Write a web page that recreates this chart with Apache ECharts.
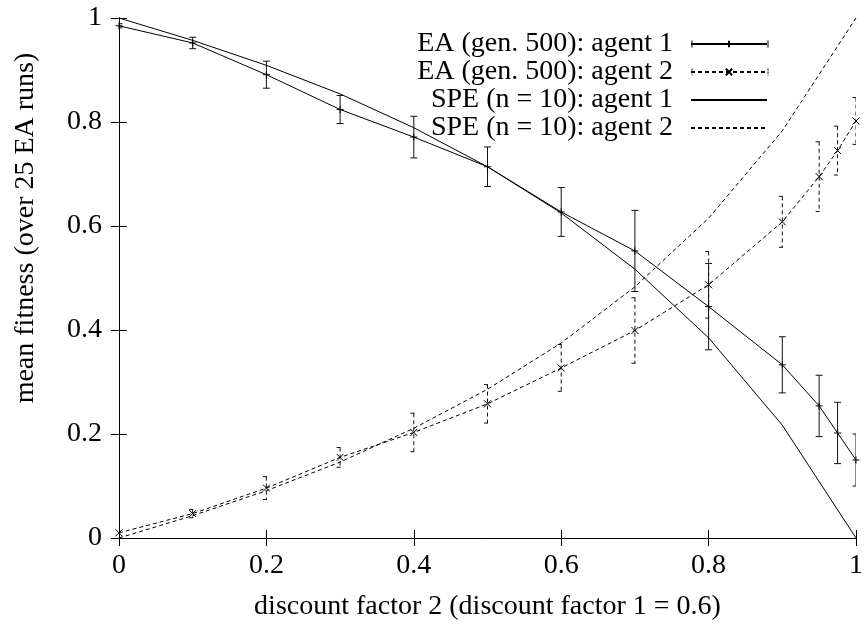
<!DOCTYPE html>
<html>
<head>
<meta charset="utf-8">
<script src="https://cdn.jsdelivr.net/npm/echarts@6/dist/echarts.min.js"></script>
<style>
  html, body { margin: 0; padding: 0; background: #fff; }
  #chart { width: 866px; height: 626px; }
</style>
</head>
<body>
<div id="chart"></div>
<script>
// discount factor 2 values where the EA was run
const eaX = [0, 0.1, 0.2, 0.3, 0.4, 0.5, 0.6, 0.7, 0.8, 0.9, 0.95, 0.975, 1];
const eaAgent1 = [0.985, 0.952, 0.891, 0.824, 0.771, 0.714, 0.627, 0.552, 0.445, 0.333, 0.254, 0.202, 0.15];
const eaAgent1Err = [0.004, 0.011, 0.026, 0.027, 0.04, 0.038, 0.047, 0.078, 0.083, 0.054, 0.059, 0.059, 0.05];
const eaAgent2 = [0.010, 0.047, 0.096, 0.155, 0.203, 0.258, 0.327, 0.399, 0.487, 0.608, 0.695, 0.745, 0.802];
const eaAgent2Err = [0.003, 0.008, 0.022, 0.019, 0.037, 0.037, 0.045, 0.063, 0.064, 0.049, 0.067, 0.047, 0.045];

// subgame perfect equilibrium (n = 10)
const speX = [0, 0.1, 0.2, 0.3, 0.4, 0.5, 0.6, 0.7, 0.8, 0.9, 1];
const speAgent1 = [1.0, 0.957, 0.909, 0.854, 0.789, 0.714, 0.625, 0.517, 0.385, 0.217, 0.0];
const speAgent2 = [0.0, 0.043, 0.091, 0.146, 0.211, 0.286, 0.375, 0.483, 0.615, 0.783, 1.0];

const legendNames = ['EA (gen. 500): agent 1', 'EA (gen. 500): agent 2', 'SPE (n = 10): agent 1', 'SPE (n = 10): agent 2'];

const FONT = 'Liberation Serif';
const FS = 28;
const DASH = [4, 3];
const PLUS = 'path://M0,4L8,4M4,0L4,8';
const CROSS = 'path://M0,0L8,8M0,8L8,0';

const LEGEND_TOP = 30;
const LEGEND_ROW = 28;

const zip = (xs, ys) => xs.map((x, i) => [x, ys[i]]);
const zip3 = (xs, ys, es) => xs.map((x, i) => [x, ys[i], es[i]]);

function errorBars(dashed) {
  return function (params, api) {
    const x = api.value(0), y = api.value(1), e = api.value(2);
    const top = api.coord([x, y + e]);
    const bot = api.coord([x, y - e]);
    const w = 3.5;
    const style = { stroke: '#111', lineWidth: 1, lineDash: dashed ? DASH : null, fill: null };
    return {
      type: 'group',
      children: [
        { type: 'line', shape: { x1: top[0], y1: top[1], x2: bot[0], y2: bot[1] }, style: style },
        { type: 'line', shape: { x1: top[0] - w, y1: top[1], x2: top[0] + w, y2: top[1] }, style: style },
        { type: 'line', shape: { x1: bot[0] - w, y1: bot[1], x2: bot[0] + w, y2: bot[1] }, style: style }
      ]
    };
  };
}

// little end caps on the two error-bar legend samples
function legendCaps(row, dashed) {
  const cy = LEGEND_TOP + LEGEND_ROW / 2 + row * LEGEND_ROW;
  return [692, 768].map(x => ({
    type: 'line',
    shape: { x1: x, y1: cy - 3.5, x2: x, y2: cy + 3.5 },
    style: { stroke: '#000', lineWidth: 1, lineDash: dashed ? [2, 1] : null }
  }));
}

const chart = echarts.init(document.getElementById('chart'));

const axisCommon = {
  type: 'value',
  min: 0,
  max: 1,
  interval: 0.2,
  splitLine: { show: false },
  axisLine: { show: true, lineStyle: { color: '#000', width: 1 } },
  axisTick: { show: true, inside: true, length: 8, lineStyle: { color: '#000' } },
  axisLabel: { color: '#000', fontFamily: FONT, fontSize: FS }
};

const option = {
  animation: false,
  backgroundColor: '#fff',
  textStyle: { fontFamily: FONT },
  grid: { left: 119, right: 2, top: 18, bottom: 84 },
  xAxis: [
    Object.assign({}, axisCommon, {
      position: 'bottom',
      axisLabel: Object.assign({}, axisCommon.axisLabel, { margin: 14, showMaxLabel: true }),
      name: 'discount factor 2 (discount factor 1 = 0.6)',
      nameLocation: 'middle',
      nameGap: 55,
      nameTextStyle: { color: '#000', fontFamily: FONT, fontSize: FS }
    }),
    Object.assign({}, axisCommon, { position: 'top', axisLabel: { show: false } })
  ],
  yAxis: [
    Object.assign({}, axisCommon, {
      position: 'left',
      axisLabel: Object.assign({}, axisCommon.axisLabel, { margin: 17 })
    }),
    Object.assign({}, axisCommon, { position: 'right', axisLabel: { show: false } })
  ],
  graphic: [{
    type: 'text',
    x: 26,
    y: 228,
    rotation: Math.PI / 2,
    style: {
      text: 'mean fitness (over 25 EA runs)',
      fontFamily: FONT,
      fontSize: FS,
      fill: '#000',
      align: 'center',
      verticalAlign: 'middle'
    }
  }].concat(legendCaps(0, false), legendCaps(1, true)),
  legend: {
    orient: 'vertical',
    align: 'right',
    right: 98,
    top: LEGEND_TOP,
    padding: 0,
    itemGap: 0,
    itemWidth: 76,
    itemHeight: 8,
    selectedMode: false,
    textStyle: { color: '#000', fontFamily: FONT, fontSize: FS, lineHeight: LEGEND_ROW, padding: [0, 13, 0, 0] },
    data: legendNames
  },
  series: [
    {
      name: legendNames[0],
      type: 'line',
      data: zip(eaX, eaAgent1),
      symbol: PLUS,
      symbolSize: 7,
      showAllSymbol: true,
      lineStyle: { color: '#000', width: 1 },
      itemStyle: { color: 'rgba(0,0,0,0)', borderColor: '#000', borderWidth: 1 },
      emphasis: { disabled: true }
    },
    {
      name: legendNames[1],
      type: 'line',
      data: zip(eaX, eaAgent2),
      symbol: CROSS,
      symbolSize: 7,
      showAllSymbol: true,
      lineStyle: { color: '#000', width: 1, type: DASH },
      itemStyle: { color: 'rgba(0,0,0,0)', borderColor: '#000', borderWidth: 1 },
      emphasis: { disabled: true }
    },
    {
      name: legendNames[2],
      type: 'line',
      data: zip(speX, speAgent1),
      symbol: 'circle',
      showSymbol: false,
      lineStyle: { color: '#000', width: 1 },
      itemStyle: { color: 'rgba(0,0,0,0)', borderWidth: 0 },
      emphasis: { disabled: true }
    },
    {
      name: legendNames[3],
      type: 'line',
      data: zip(speX, speAgent2),
      symbol: 'circle',
      showSymbol: false,
      lineStyle: { color: '#000', width: 1, type: DASH },
      itemStyle: { color: 'rgba(0,0,0,0)', borderWidth: 0 },
      emphasis: { disabled: true }
    },
    {
      name: legendNames[0],
      type: 'custom',
      clip: true,
      renderItem: errorBars(false),
      data: zip3(eaX, eaAgent1, eaAgent1Err),
      encode: { x: 0, y: 1 },
      silent: true
    },
    {
      name: legendNames[1],
      type: 'custom',
      clip: true,
      renderItem: errorBars(true),
      data: zip3(eaX, eaAgent2, eaAgent2Err),
      encode: { x: 0, y: 1 },
      silent: true
    }
  ]
};

chart.setOption(option);
</script>
</body>
</html>
